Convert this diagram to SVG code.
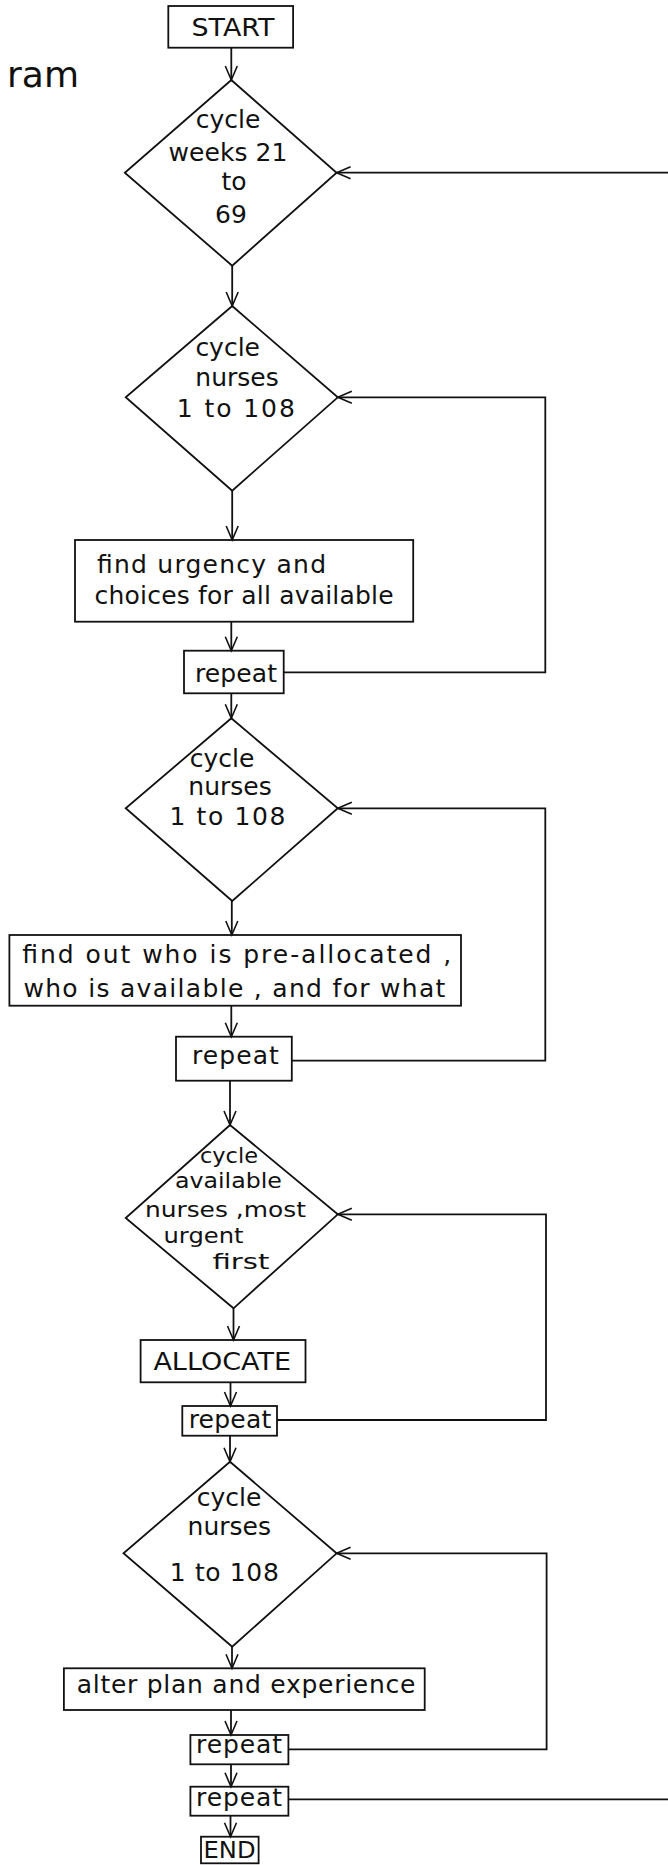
<svg xmlns="http://www.w3.org/2000/svg" width="668" height="1865" viewBox="0 0 668 1865">
<style>
.n{fill:none;stroke:#111;stroke-width:1.8}
.c{fill:none;stroke:#111;stroke-width:1.8}
text{font-family:"DejaVu Sans","Liberation Sans",sans-serif;font-size:25px;fill:#111}
.m{text-anchor:middle}
.s{font-size:22px}
</style>
<defs>
<marker id="a" markerUnits="userSpaceOnUse" markerWidth="18" markerHeight="16" refX="15" refY="7" orient="auto" viewBox="0 0 18 14">
<path d="M1,1 L15,7 L1,13" fill="none" stroke="#111" stroke-width="1.6"/>
</marker>
</defs>
<rect width="668" height="1865" fill="#fff"/>
<text x="79" y="87" style="font-size:36px;text-anchor:end">ram</text>

<g id="start"><rect class="n" x="168.3" y="6" width="124.8" height="41.7"/><text class="m" x="233" y="36" textLength="83" lengthAdjust="spacingAndGlyphs">START</text></g>

<g id="d1"><polygon class="n" points="231.3,80 336.6,172.7 232.2,265.7 124.8,172.7"/>
<text class="m" x="228" y="127.7">cycle</text><text class="m" x="228" y="161" textLength="119">weeks 21</text><text class="m" x="234" y="190">to</text><text class="m" x="231" y="222.7">69</text></g>

<g id="d2"><polygon class="n" points="232.2,306 337.8,397.3 232.2,490.7 125.7,397.3"/>
<text class="m" x="227.7" y="356">cycle</text><text class="m" x="237" y="386">nurses</text><text class="m" x="235.8" y="416.7" textLength="118">1 to 108</text></g>

<g id="b1"><rect class="n" x="75" y="540" width="338.2" height="81.7"/>
<text x="97" y="573" textLength="229">find urgency and</text><text x="94.6" y="604.3" textLength="299">choices for all available</text></g>

<g id="r1"><rect class="n" x="184" y="650.7" width="99.7" height="42.6"/><text class="m" x="236" y="681.7" textLength="82">repeat</text></g>

<g id="d3"><polygon class="n" points="231.3,718.3 337.8,808.3 232.2,901 125.7,808.3"/>
<text class="m" x="222" y="766.7">cycle</text><text class="m" x="230" y="795">nurses</text><text class="m" x="227.5" y="825" textLength="116">1 to 108</text></g>

<g id="b2"><rect class="n" x="9.4" y="935" width="451.6" height="70.7"/>
<text x="22.2" y="963.3" textLength="429">find out who is pre-allocated ,</text><text x="23.4" y="996.7" textLength="422">who is available , and for what</text></g>

<g id="r2"><rect class="n" x="176" y="1036.7" width="115.8" height="44"/><text class="m" x="235.4" y="1064" textLength="87">repeat</text></g>

<g id="d4"><polygon class="n" points="230,1125 337.8,1214.3 233.5,1308.3 125.7,1218"/>
<text class="m s" x="229" y="1163.3" textLength="58" lengthAdjust="spacingAndGlyphs">cycle</text><text class="m s" x="228.4" y="1188.3" textLength="107" lengthAdjust="spacingAndGlyphs">available</text><text class="m s" x="225.4" y="1216.7" textLength="161" lengthAdjust="spacingAndGlyphs">nurses ,most</text><text class="m s" x="203.5" y="1242.7" textLength="80" lengthAdjust="spacingAndGlyphs">urgent</text><text class="m s" x="241" y="1269.3" textLength="57" lengthAdjust="spacingAndGlyphs">first</text></g>

<g id="alloc"><rect class="n" x="140.6" y="1340" width="164.9" height="42.3"/><text class="m" x="222.2" y="1370" textLength="137.6" lengthAdjust="spacingAndGlyphs">ALLOCATE</text></g>

<g id="r3"><rect class="n" x="182.3" y="1406" width="94.7" height="29.7"/><text class="m" x="230" y="1428.3" textLength="82.7">repeat</text></g>

<g id="d5"><polygon class="n" points="230,1461.7 336.6,1553.3 232.2,1646.7 123.5,1553.3"/>
<text class="m" x="229" y="1506">cycle</text><text class="m" x="229.3" y="1535">nurses</text><text class="m" x="224.3" y="1580.7" textLength="109">1 to 108</text></g>

<g id="b5"><rect class="n" x="63.9" y="1668.3" width="360.8" height="41.7"/><text x="76.7" y="1693.3" textLength="338.7">alter plan and experience</text></g>

<g id="r4"><rect class="n" x="190.4" y="1735" width="98" height="29.3"/><text class="m" x="239" y="1753.3" textLength="86">repeat</text></g>

<g id="r5"><rect class="n" x="190.4" y="1786.7" width="98" height="29"/><text class="m" x="239" y="1806" textLength="86">repeat</text></g>

<g id="end"><rect class="n" x="201" y="1836.7" width="57.6" height="26.6"/><text class="m" x="229.6" y="1858.3" style="font-size:23px" textLength="52" lengthAdjust="spacingAndGlyphs">END</text></g>

<g id="connectors">
<path class="c" marker-end="url(#a)" d="M231.3,47.7 V80"/>
<path class="c" marker-end="url(#a)" d="M232.2,265.7 V306"/>
<path class="c" marker-end="url(#a)" d="M232.2,490.7 V540"/>
<path class="c" marker-end="url(#a)" d="M231.3,621.7 V650.7"/>
<path class="c" marker-end="url(#a)" d="M283.7,672.3 H545.3 V397.3 H337.8"/>
<path class="c" marker-end="url(#a)" d="M231.3,693.3 V718.3"/>
<path class="c" marker-end="url(#a)" d="M231.8,901 V935"/>
<path class="c" marker-end="url(#a)" d="M231.3,1005.7 V1036.7"/>
<path class="c" marker-end="url(#a)" d="M291.8,1060.7 H545.3 V808.3 H337.8"/>
<path class="c" marker-end="url(#a)" d="M230,1080.7 V1125"/>
<path class="c" marker-end="url(#a)" d="M233.5,1308.3 V1340"/>
<path class="c" marker-end="url(#a)" d="M230.5,1382.3 V1406"/>
<path class="c" marker-end="url(#a)" d="M277,1420 H546 V1214.3 H337.8"/>
<path class="c" marker-end="url(#a)" d="M230,1435.7 V1461.7"/>
<path class="c" marker-end="url(#a)" d="M232,1646.7 V1668.3"/>
<path class="c" marker-end="url(#a)" d="M231,1710 V1735"/>
<path class="c" marker-end="url(#a)" d="M288.4,1749.3 H546.6 V1553.3 H336.6"/>
<path class="c" marker-end="url(#a)" d="M231,1764.3 V1786.7"/>
<path class="c" marker-end="url(#a)" d="M288.4,1799.3 H674 V172.7 H336.6"/>
<path class="c" marker-end="url(#a)" d="M230.5,1815.7 V1836.7"/>
</g>
</svg>
